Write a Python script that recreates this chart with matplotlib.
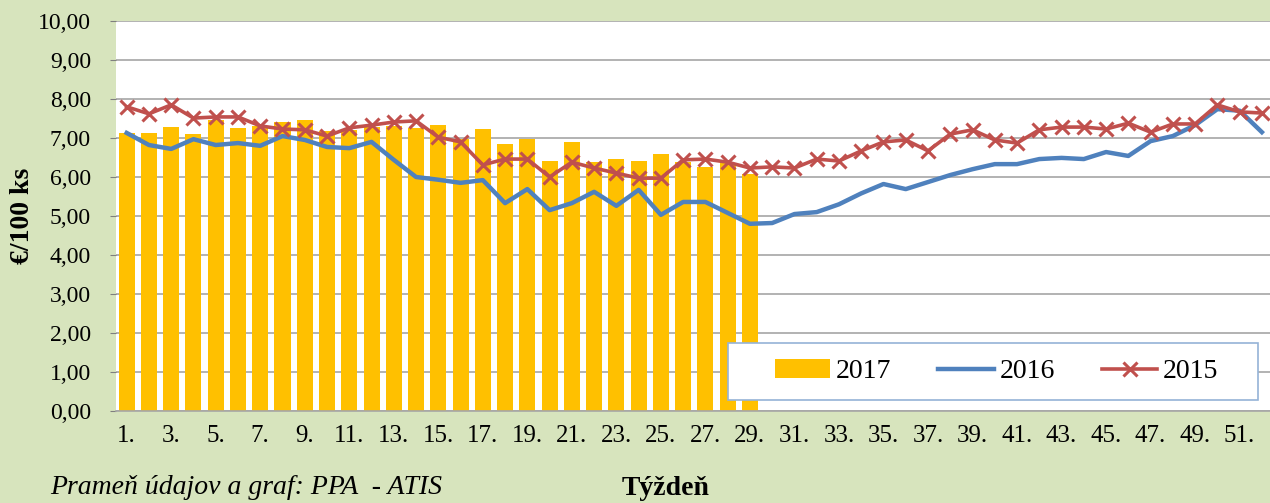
import numpy as np
import matplotlib
matplotlib.use('Agg')
import matplotlib.pyplot as plt
from matplotlib.patches import Rectangle
from matplotlib.ticker import FuncFormatter

weeks = np.arange(1, 53)

y2017 = [7.12, 7.14, 7.28, 7.10, 7.46, 7.26, 7.30, 7.40, 7.46, 7.18,
         7.20, 7.28, 7.30, 7.26, 7.34, 6.97, 7.23, 6.85, 6.97, 6.41,
         6.90, 6.38, 6.46, 6.41, 6.59, 6.38, 6.25, 6.35, 6.07]

y2016 = [7.13, 6.82, 6.72, 6.97, 6.82, 6.87, 6.80, 7.05, 6.95, 6.77,
         6.74, 6.90, 6.44, 6.00, 5.93, 5.85, 5.92, 5.33, 5.69, 5.15,
         5.33, 5.62, 5.26, 5.67, 5.03, 5.36, 5.36, 5.08, 4.80, 4.82,
         5.05, 5.10, 5.30, 5.58, 5.82, 5.69, 5.87, 6.05, 6.20, 6.33,
         6.33, 6.46, 6.49, 6.46, 6.64, 6.54, 6.92, 7.05, 7.33, 7.74,
         7.70, 7.15]

y2015 = [7.80, 7.62, 7.85, 7.51, 7.54, 7.54, 7.31, 7.23, 7.21, 7.05,
         7.26, 7.33, 7.41, 7.44, 7.02, 6.90, 6.31, 6.46, 6.46, 6.00,
         6.38, 6.23, 6.10, 5.97, 5.97, 6.44, 6.46, 6.38, 6.23, 6.26,
         6.23, 6.46, 6.41, 6.67, 6.90, 6.95, 6.67, 7.10, 7.21, 6.95,
         6.87, 7.21, 7.28, 7.28, 7.23, 7.38, 7.15, 7.36, 7.36, 7.85,
         7.67, 7.64]

tick_weeks = list(range(1, 53, 2))
tick_labels = [f"{w}." for w in tick_weeks]

bg = '#D7E4BD'
plt.rcParams['font.family'] = ['Liberation Serif', 'DejaVu Serif']

fig = plt.figure(figsize=(12.7, 5.03), dpi=100, facecolor=bg)
ax = fig.add_axes([116 / 1270, 92 / 503, 1157 / 1270, 390 / 503])
ax.set_facecolor('white')

b = ax.bar(weeks[:len(y2017)], y2017, width=0.72, color='#FFC000', label='2017', zorder=2)
l16, = ax.plot(weeks, y2016, color='#4F81BD', lw=3.2, label='2016', zorder=3)
l15, = ax.plot(weeks, y2015, color='#C0504D', lw=2.6, marker='x', ms=10, mew=2.2,
               label='2015', zorder=4)

ax.set_xlim(0.52, 52.5)
ax.set_ylim(0, 10)
ax.set_yticks(np.arange(0, 10.5, 1))
ax.yaxis.set_major_formatter(FuncFormatter(lambda v, p: f"{v:.2f}".replace('.', ',')))
ax.set_xticks(tick_weeks)
ax.set_xticklabels(tick_labels)
ax.grid(axis='y', color='#A6A6A6', lw=1.2, zorder=1)
ax.tick_params(axis='y', length=4, color='#7F7F7F', labelsize=17, pad=14)
ax.tick_params(axis='x', length=0, labelsize=18, pad=10)
for s in ['top', 'right', 'left']:
    ax.spines[s].set_visible(False)
ax.spines['bottom'].set_color('#A6A6A6')
ax.spines['bottom'].set_linewidth(1.2)

ax.set_ylabel('€/100 ks', fontsize=20, fontweight='bold', labelpad=2)

# legend box drawn separately so the entries sit centred like the original
box = Rectangle((0.529, 0.028), 0.458, 0.146, transform=ax.transAxes,
                facecolor='white', edgecolor='#95B3D7', lw=1.2, zorder=9)
ax.add_patch(box)
leg = ax.legend([b, l16, l15], ['2017', '2016', '2015'], loc='center',
                bbox_to_anchor=(0.761, 0.101), ncol=3, fontsize=20, frameon=False,
                handlelength=2.0, handletextpad=0.2, borderaxespad=0,
                columnspacing=1.7)
leg.set_zorder(10)

fig.text(50 / 1270, 1 - 487 / 503, 'Prameň údajov a graf: PPA  - ATIS', fontsize=20,
         style='italic', va='center', ha='left')
fig.text(622 / 1270, 2 / 503, 'Týždeň', fontsize=20, fontweight='bold',
         va='bottom', ha='left')

fig.savefig('out.png', dpi=100, facecolor=bg)
